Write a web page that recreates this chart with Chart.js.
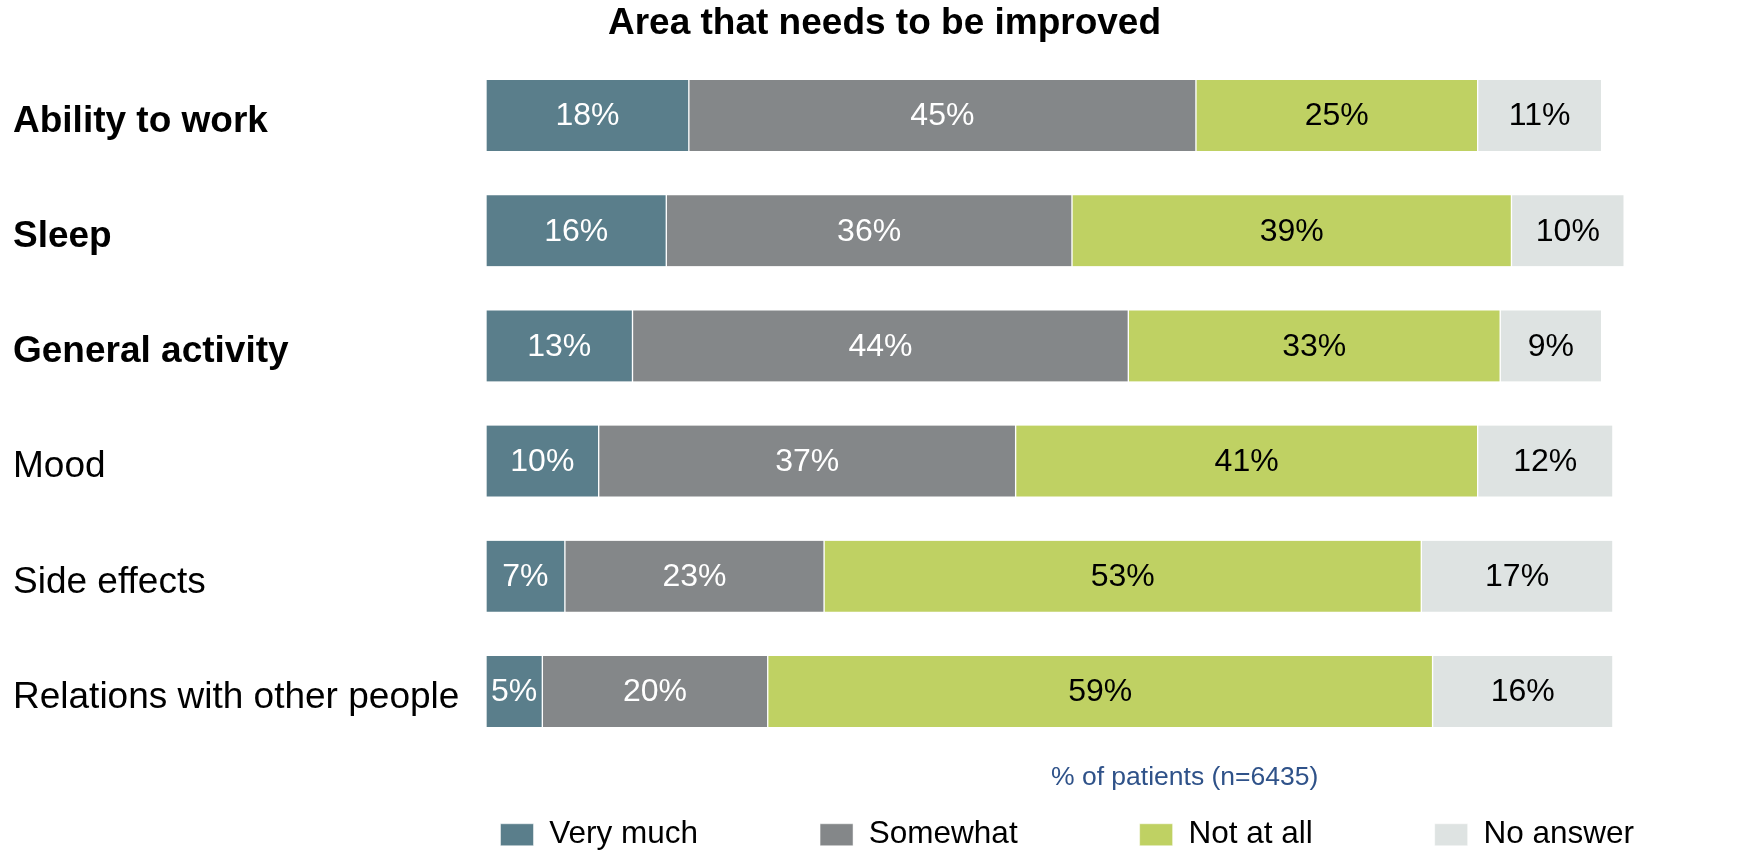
<!DOCTYPE html>
<html>
<head>
<meta charset="utf-8">
<title>Area that needs to be improved</title>
<script src="https://cdn.jsdelivr.net/npm/chart.js@4.4.1/dist/chart.umd.min.js"></script>
<style>
  html, body { margin: 0; padding: 0; background: #fff; }
  #wrap { width: 1756px; height: 852px; position: relative; }
</style>
</head>
<body>
<div id="wrap"><canvas id="chart-areas"></canvas></div>
<script>
const categories = [
  "Ability to work",
  "Sleep",
  "General activity",
  "Mood",
  "Side effects",
  "Relations with other people",
];
const boldCategories = ["Ability to work", "Sleep", "General activity"];

const veryMuch = [18, 16, 13, 10, 7, 5];
const somewhat = [45, 36, 44, 37, 23, 20];
const notAtAll = [25, 39, 33, 41, 53, 59];
const noAnswer = [11, 10, 9, 12, 17, 16];

const seriesNames = ["Very much", "Somewhat", "Not at all", "No answer"];
const seriesColors = ["#5a7e8b", "#848789", "#bfd163", "#dee3e2"];
const labelColors = ["#ffffff", "#ffffff", "#000000", "#000000"];

const chartTitle = "Area that needs to be improved";
const noteText = "% of patients (n=6435)";

Chart.defaults.font.family = '"Liberation Sans", Arial, sans-serif';
Chart.defaults.color = "#000";

// percent labels in the middle of every segment
const barLabels = {
  id: "barLabels",
  afterDatasetsDraw(chart) {
    const ctx = chart.ctx;
    ctx.save();
    ctx.font = '32px "Liberation Sans", Arial, sans-serif';
    ctx.textAlign = "center";
    ctx.textBaseline = "middle";
    chart.data.datasets.forEach((ds, i) => {
      const meta = chart.getDatasetMeta(i);
      ctx.fillStyle = labelColors[i];
      meta.data.forEach((bar, j) => {
        ctx.fillText(ds.data[j] + "%", (bar.x + bar.base) / 2, bar.y + 1);
      });
    });
    ctx.restore();
  },
};

// the "% of patients" note under the bars
const note = {
  id: "note",
  afterDraw(chart) {
    const ctx = chart.ctx;
    const x = chart.scales.x;
    ctx.save();
    ctx.font = '26.5px "Liberation Sans", Arial, sans-serif';
    ctx.fillStyle = "#2f5289";
    ctx.textAlign = "center";
    ctx.textBaseline = "middle";
    ctx.fillText(noteText, x.getPixelForValue(62), chart.chartArea.bottom + 86);
    ctx.restore();
  },
};

function makeDataset(i, values) {
  return {
    label: seriesNames[i],
    data: values,
    backgroundColor: seriesColors[i],
    borderColor: "#ffffff",
    borderWidth: { left: 1, right: 1, top: 0, bottom: 0 },
    borderSkipped: false,
    barThickness: 71,
    clip: false,
  };
}

const config = {
  type: "bar",
  data: {
    labels: categories,
    datasets: [
      makeDataset(0, veryMuch),
      makeDataset(1, somewhat),
      makeDataset(2, notAtAll),
      makeDataset(3, noAnswer),
    ],
  },
  plugins: [barLabels, note],
  options: {
    indexAxis: "y",
    responsive: true,
    maintainAspectRatio: false,
    animation: false,
    layout: {
      padding: { left: 13, right: 0, top: 0, bottom: -8.5 },
    },
    scales: {
      x: {
        stacked: true,
        min: 0,
        max: 112.7,
        grid: { display: false },
        border: { display: false },
        ticks: { display: false },
        afterFit: (scale) => {
          scale.height = 5.5;
        },
      },
      y: {
        stacked: true,
        offset: false,
        grid: { display: false },
        border: { display: false },
        ticks: {
          crossAlign: "far",
          padding: 0,
          labelOffset: 6,
          color: "#000",
          font: (ctx) => ({
            size: 37,
            weight: boldCategories.includes(categories[ctx.index]) ? "bold" : "normal",
          }),
        },
        afterFit: (scale) => {
          scale.width = 473;
        },
      },
    },
    plugins: {
      title: {
        display: true,
        text: chartTitle,
        color: "#000",
        font: { size: 37, weight: "bold" },
        padding: { top: 2, bottom: 69.1 },
      },
      legend: {
        position: "bottom",
        align: "end",
        labels: {
          boxWidth: 33,
          boxHeight: 22,
          padding: 122,
          color: "#000",
          font: { size: 31.5 },
        },
      },
      tooltip: { enabled: false },
    },
  },
};

new Chart(document.getElementById("chart-areas"), config);
</script>
</body>
</html>
